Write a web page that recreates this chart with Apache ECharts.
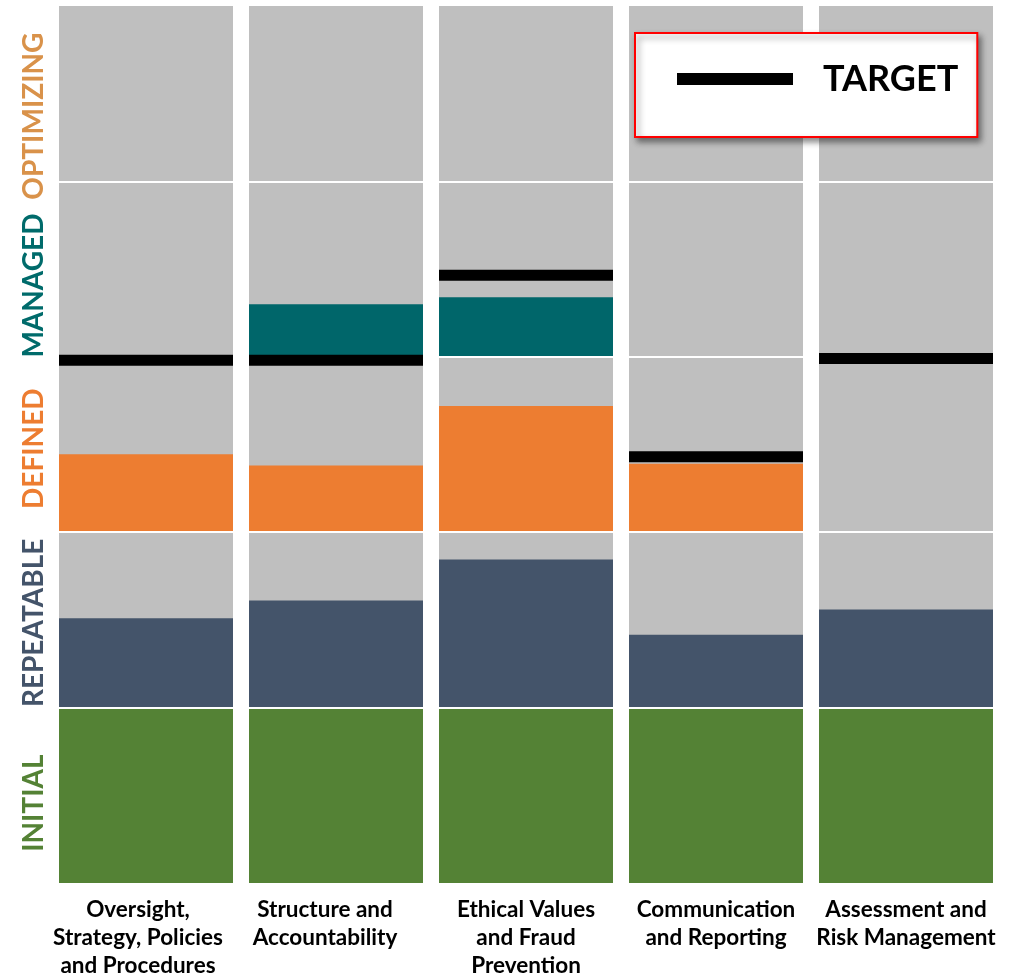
<!DOCTYPE html>
<html>
<head>
<meta charset="utf-8">
<script src="https://cdn.jsdelivr.net/npm/echarts@6/dist/echarts.min.js"></script>
<style>
  html, body { margin: 0; padding: 0; background: #fff; }
  #chart { width: 1020px; height: 977px; }
</style>
</head>
<body>
<div id="chart"></div>
<script>
// Maturity model: each level is one unit tall; a colored bar shows how much of the level is reached.
const categories = [
  'Oversight,\nStrategy, Policies\nand Procedures',
  'Structure and\nAccountability',
  'Ethical Values\nand Fraud\nPrevention',
  'Communication\nand Reporting',
  'Assessment and\nRisk Management'
];
const levels = ['INITIAL', 'REPEATABLE', 'DEFINED', 'MANAGED', 'OPTIMIZING'];
const levelColors = ['#548235', '#44546A', '#ED7D31', '#006B6B', '#D9924A'];
// Fraction of each level achieved, per category
const initial    = [1, 1, 1, 1, 1];
const repeatable = [0.51, 0.61, 0.845, 0.415, 0.56];
const defined    = [0.445, 0.38, 0.72, 0.39, 0];
const managed    = [0, 0.30, 0.34, 0, 0];
// Target maturity score per category
const target     = [2.98, 2.98, 3.465, 2.43, 2.99];
// Where the level names sit along the value axis
const levelLabelPos = [0.455, 1.483, 2.476, 3.406, 4.372];

const BAR_W = 174;
const FONT = 'Lato, "Open Sans", sans-serif';
// extra right padding nudges the first two category captions a little to the left
const captionPadRight = [16, 22, 0, 0, 0];

const chart = echarts.init(document.getElementById('chart'), null, { renderer: 'canvas' });

const barBase = {
  type: 'bar',
  barWidth: BAR_W,
  barGap: '-100%',
  silent: true
};
const pad = arr => arr.map(v => 1 - v);

chart.setOption({
  animation: false,
  backgroundColor: '#ffffff',
  grid: { left: 51, right: 19, top: 6, bottom: 94, containLabel: false, outerBoundsMode: 'none' },
  legend: {
    data: ['TARGET'],
    selectedMode: false,
    left: 635,
    top: 33,
    icon: 'rect',
    itemWidth: 116,
    itemHeight: 12,
    padding: [28, 19, 40, 42],
    backgroundColor: '#ffffff',
    borderColor: '#FF0000',
    borderWidth: 2,
    shadowBlur: 6,
    shadowColor: 'rgba(0,0,0,0.45)',
    shadowOffsetX: 3,
    shadowOffsetY: 4,
    itemStyle: { opacity: 1 },
    textStyle: {
      fontFamily: FONT,
      fontWeight: 'bold',
      fontSize: 36,
      color: '#000',
      padding: [0, 0, 0, 25]
    }
  },
  xAxis: {
    type: 'category',
    data: categories.map((c, i) => ({
      value: c,
      textStyle: { padding: [0, captionPadRight[i], 0, 0] }
    })),
    axisLine: { show: false },
    axisTick: { show: false },
    axisLabel: {
      interval: 0,
      margin: 13,
      color: '#000',
      fontFamily: FONT,
      fontWeight: 'bold',
      fontSize: 22.5,
      lineHeight: 28,
      verticalAlign: 'top'
    }
  },
  yAxis: {
    type: 'value',
    min: 0,
    max: 5,
    interval: 1,
    splitLine: { show: false },
    axisLine: { show: false },
    axisTick: { show: false },
    axisLabel: {
      customValues: levelLabelPos,
      rotate: 90,
      margin: 3,
      fontFamily: FONT,
      fontWeight: 'bold',
      fontSize: 28,
      formatter: v => levels[Math.floor(v)],
      color: v => levelColors[Math.floor(v)]
    }
  },
  series: [
    Object.assign({}, barBase, {
      name: 'bg',
      stack: 'bg',
      data: categories.map(() => 5),
      itemStyle: { color: '#BFBFBF' },
      markLine: {
        silent: true,
        symbol: 'none',
        label: { show: false },
        lineStyle: { color: '#ffffff', width: 2, type: 'solid' },
        data: [{ yAxis: 1 }, { yAxis: 2 }, { yAxis: 3 }, { yAxis: 4 }]
      }
    }),
    Object.assign({}, barBase, { name: 'Initial', stack: 'lvl', data: initial, itemStyle: { color: levelColors[0] } }),
    Object.assign({}, barBase, { name: 'Repeatable', stack: 'lvl', data: repeatable, itemStyle: { color: levelColors[1] } }),
    Object.assign({}, barBase, { name: 'gap1', stack: 'lvl', data: pad(repeatable), itemStyle: { color: 'rgba(0,0,0,0)' } }),
    Object.assign({}, barBase, { name: 'Defined', stack: 'lvl', data: defined, itemStyle: { color: levelColors[2] } }),
    Object.assign({}, barBase, { name: 'gap2', stack: 'lvl', data: pad(defined), itemStyle: { color: 'rgba(0,0,0,0)' } }),
    Object.assign({}, barBase, { name: 'Managed', stack: 'lvl', data: managed, itemStyle: { color: '#00666A' } }),
    {
      name: 'TARGET',
      type: 'scatter',
      z: 10,
      silent: true,
      symbol: 'rect',
      symbolSize: [BAR_W, 11],
      itemStyle: { color: '#000000', opacity: 1 },
      data: target
    }
  ]
});
</script>
</body>
</html>
